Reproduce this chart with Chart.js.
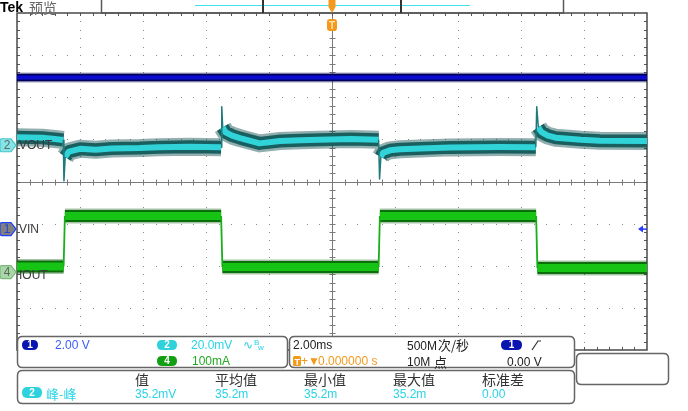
<!DOCTYPE html>
<html><head><meta charset="utf-8">
<script src="https://cdn.jsdelivr.net/npm/chart.js@4.4.1/dist/chart.umd.min.js"></script>
<style>html,body{margin:0;padding:0;background:#fff;overflow:hidden}canvas{display:block}</style>
</head><body>
<canvas id="c" width="688" height="411"></canvas>
<script>
// ---------------- data (time in ms, 2.00 ms/div) ----------------
const vinTime = [-10, -5, 0, 5, 10];
const vinVolts = [7.2, 7.2, 7.2, 7.2, 7.2];

const voutTime = [-10,-9.2,-8.8,-8.53, -8.5, -8.47,-8.35,-8.0,-7.5,-7.0,-6.1,-5.5,-4.5,-3.52, -3.5,
  -3.47,-3.38,-3.17,-2.92,-2.3,-1.65,-1.0,-0.4,0.6,1.48, 1.51,
  1.55,1.62,1.84,2.16,2.8,3.75,5.3,6.47, 6.5,
  6.55,6.65,6.85,7.1,7.9,8.5,10];
const voutMv = [3.8,3.6,3.0,2.5, null, -5.5,-3.0,-1.7,-2.1,-1.5,-1.3,-0.9,-0.7,-0.9, null,
  8.5,6.2,4.6,3.4,0.9,2.0,2.4,2.6,3.0,2.6, null,
  -5.5,-3.6,-2.4,-1.9,-1.5,-1.0,-0.8,-0.9, null,
  8.5,6.2,4.6,3.6,2.6,2.2,2.0];
const voutSpikeTime = [-8.53,-8.51,-8.47, -8.4, -3.52,-3.5,-3.47, -3.4, 1.48,1.51,1.55, 1.6, 6.47,6.5,6.55];
const voutSpikeMv   = [2.5,-16.9,-5.5, null, -0.9,18.3,8.5, null, 2.6,-16.0,-5.5, null, -0.9,18.3,8.5];

const ioutTime = [-10,-8.52, -8.5, -8.48,-3.52, -3.5, -3.48,1.48, 1.5, 1.52,6.48, 6.5, 6.52,10];
const ioutMa   = [13,13, null, 133,133, null, 12,12, null, 133,133, null, 9.5,9.5];
const ioutEdgeTime = [-8.52,-8.48, -8.4, -3.52,-3.48, -3.4, 1.48,1.52, 1.6, 6.48,6.52];
const ioutEdgeMa   = [13,133, null, 133,12, null, 12,133, null, 133,9.5];

const channelLabels = ['VIN', 'VOUT', 'IOUT'];
const measHeaders = ['值', '平均值', '最小值', '最大值', '标准差'];
const measValues = ['35.2mV', '35.2m', '35.2m', '35.2m', '0.00'];
const measName = '峰-峰';

// channel vertical settings (per division, offset in divisions from centre)
const CH1 = {perDiv: 2.0, offset: -1.13};   // V
const CH2 = {perDiv: 20.0, offset: 0.86};   // mV
const CH4 = {perDiv: 100, offset: -2.15};   // mA

const pts = (xs, ys) => xs.map((x, i) => ({x: x, y: ys[i]}));
const axisFor = ch => ({display: false, min: (-4 - ch.offset) * ch.perDiv, max: (4 - ch.offset) * ch.perDiv});

function ds(data, axis, color, width, order) {
  return {data: data, yAxisID: axis, borderColor: color, borderWidth: width, pointRadius: 0,
    tension: 0, spanGaps: false, fill: false, order: order, borderCapStyle: 'butt', borderJoinStyle: 'round'};
}

const vin = pts(vinTime, vinVolts);
const vout = pts(voutTime, voutMv);
const voutSp = pts(voutSpikeTime, voutSpikeMv);
const iout = pts(ioutTime, ioutMa);
const ioutEd = pts(ioutEdgeTime, ioutEdgeMa);

const FONT = '"Liberation Sans", Arial, sans-serif';
const CJK = '"Noto Sans CJK SC", sans-serif';

function rrect(ctx, x, y, w, h, r) {
  ctx.beginPath();
  ctx.moveTo(x + r, y); ctx.lineTo(x + w - r, y); ctx.quadraticCurveTo(x + w, y, x + w, y + r);
  ctx.lineTo(x + w, y + h - r); ctx.quadraticCurveTo(x + w, y + h, x + w - r, y + h);
  ctx.lineTo(x + r, y + h); ctx.quadraticCurveTo(x, y + h, x, y + h - r);
  ctx.lineTo(x, y + r); ctx.quadraticCurveTo(x, y, x + r, y); ctx.closePath();
}
function pill(ctx, x, y, w, h, fill, txt) {
  rrect(ctx, x, y, w, h, h / 2); ctx.fillStyle = fill; ctx.fill();
  ctx.fillStyle = '#fff'; ctx.font = 'bold 10px ' + FONT; ctx.textAlign = 'center'; ctx.textBaseline = 'middle';
  ctx.fillText(txt, x + w / 2, y + h / 2 + 0.5);
  ctx.textAlign = 'left'; ctx.textBaseline = 'alphabetic';
}
function tag(ctx, yc, fill, stroke, txt, tcol) {
  ctx.beginPath();
  ctx.moveTo(2, yc - 6.5); ctx.lineTo(11, yc - 6.5); ctx.lineTo(16, yc); ctx.lineTo(11, yc + 6.5);
  ctx.lineTo(2, yc + 6.5); ctx.quadraticCurveTo(0, yc + 6.5, 0, yc + 4.5); ctx.lineTo(0, yc - 4.5);
  ctx.quadraticCurveTo(0, yc - 6.5, 2, yc - 6.5); ctx.closePath();
  ctx.fillStyle = fill; ctx.fill(); ctx.lineWidth = 1.2; ctx.strokeStyle = stroke; ctx.stroke();
  ctx.fillStyle = tcol; ctx.font = '12px ' + FONT; ctx.textAlign = 'center'; ctx.textBaseline = 'middle';
  ctx.fillText(txt, 7, yc + 0.5); ctx.textAlign = 'left'; ctx.textBaseline = 'alphabetic';
}

const scopePlugin = {
  id: 'scope',
  beforeDatasetsDraw(chart) {
    const {ctx, chartArea: a, scales} = chart;
    const sx = scales.x, sy = scales.y;
    const dx = (sx.getPixelForValue(2) - sx.getPixelForValue(0)) / 5;
    const dy = (sy.getPixelForValue(0) - sy.getPixelForValue(1)) / 5;
    const cx = Math.round(sx.getPixelForValue(0)) + 0.5, cy = Math.round(sy.getPixelForValue(0)) + 0.5;
    ctx.save();
    // dotted graticule along each division line
    ctx.fillStyle = '#8a8a8a';
    sx.ticks.forEach(t => {
      if (t.value <= sx.min || t.value >= sx.max || t.value === 0) return;
      const x = Math.round(sx.getPixelForValue(t.value));
      for (let j = 1; j < 40; j++) ctx.fillRect(x, Math.round(a.top + j * dy), 1, 1);
    });
    sy.ticks.forEach(t => {
      if (t.value <= sy.min || t.value >= sy.max || t.value === 0) return;
      const y = Math.round(sy.getPixelForValue(t.value));
      for (let i = 1; i < 50; i++) ctx.fillRect(Math.round(a.left + i * dx), y, 1, 1);
    });
    ctx.strokeStyle = '#7a7a7a'; ctx.lineWidth = 1;
    ctx.beginPath();
    ctx.moveTo(a.left, cy); ctx.lineTo(a.right, cy);
    ctx.moveTo(cx, a.top); ctx.lineTo(cx, a.bottom);
    for (let i = 1; i < 50; i++) { const x = Math.round(a.left + i * dx) + 0.5; ctx.moveTo(x, cy - 3); ctx.lineTo(x, cy + 3); }
    for (let j = 1; j < 40; j++) { const y = Math.round(a.top + j * dy) + 0.5; ctx.moveTo(cx - 3, y); ctx.lineTo(cx + 3, y); }
    ctx.stroke();
    // border ticks
    ctx.strokeStyle = '#555';
    ctx.beginPath();
    for (let i = 1; i < 50; i++) { const x = Math.round(a.left + i * dx) + 0.5; ctx.moveTo(x, a.top); ctx.lineTo(x, a.top + 3); ctx.moveTo(x, a.bottom); ctx.lineTo(x, a.bottom - 3); }
    for (let j = 1; j < 40; j++) { const y = Math.round(a.top + j * dy) + 0.5; ctx.moveTo(a.left, y); ctx.lineTo(a.left + 3, y); ctx.moveTo(a.right, y); ctx.lineTo(a.right - 3, y); }
    ctx.stroke();
    ctx.lineWidth = 1.5; ctx.strokeStyle = '#4a4a4a';
    ctx.strokeRect(a.left, a.top, a.right - a.left, a.bottom - a.top);
    ctx.restore();
  },
  afterDraw(chart) {
    const {ctx, chartArea: a, scales} = chart;
    const cx = scales.x.getPixelForValue(0);
    ctx.save();
    // top bar
    ctx.fillStyle = '#000'; ctx.font = 'bold 14px ' + FONT; ctx.fillText('Tek', 0, 12);
    ctx.fillStyle = '#666'; ctx.font = '14px ' + CJK; ctx.fillText('预览', 29, 13);
    ctx.strokeStyle = '#5a5a5a'; ctx.lineWidth = 1.5;
    ctx.strokeRect(101.5, -1, 462, 14);
    ctx.strokeStyle = '#40e0ec'; ctx.lineWidth = 1;
    ctx.beginPath(); ctx.moveTo(195, 5.5); ctx.lineTo(470, 5.5); ctx.stroke();
    ctx.strokeStyle = '#333'; ctx.lineWidth = 2;
    ctx.beginPath(); ctx.moveTo(263, 0); ctx.lineTo(263, 13); ctx.moveTo(401, 0); ctx.lineTo(401, 13); ctx.stroke();
    // trigger position markers
    ctx.fillStyle = '#f39a1c';
    ctx.beginPath(); ctx.moveTo(cx - 3.5, 0); ctx.lineTo(cx + 3.5, 0); ctx.lineTo(cx + 3.5, 7); ctx.lineTo(cx, 13); ctx.lineTo(cx - 3.5, 7); ctx.closePath(); ctx.fill();
    rrect(ctx, cx - 5, 19, 10, 12, 3); ctx.fill();
    ctx.fillStyle = '#ffe0b0'; ctx.font = 'bold 10px ' + FONT; ctx.textAlign = 'center'; ctx.fillText('T', cx, 29); ctx.textAlign = 'left';
    // channel tags
    const y1 = scales.yA.getPixelForValue(0), y2 = scales.yV.getPixelForValue(0), y4 = scales.yI.getPixelForValue(0);
    tag(ctx, y2, '#86e4e6', '#4cc6ca', '2', '#5a6a6a');
    tag(ctx, y1, '#808080', '#2040ff', '1', '#2a40d8');
    tag(ctx, y4, '#a9d6a9', '#7cb87c', '4', '#5a6a5a');
    ctx.fillStyle = '#3a3a3a'; ctx.font = '12px ' + FONT; ctx.textBaseline = 'middle';
    ctx.fillText(channelLabels[0], 19, y1 + 0.5);
    ctx.fillText(channelLabels[1], 19, y2 + 0.5);
    ctx.fillText(channelLabels[2], 19, y4 + 3.5);
    ctx.textBaseline = 'alphabetic';
    // trigger level arrow on right
    ctx.fillStyle = '#2a3cff'; ctx.strokeStyle = '#2a3cff'; ctx.lineWidth = 1.5;
    ctx.beginPath(); ctx.moveTo(638, y1); ctx.lineTo(643, y1 - 3.5); ctx.lineTo(643, y1 + 3.5); ctx.closePath(); ctx.fill();
    ctx.beginPath(); ctx.moveTo(642, y1); ctx.lineTo(647, y1); ctx.stroke();

    // readout boxes
    ctx.lineWidth = 1.5; ctx.strokeStyle = '#666';
    const boxes = [[17, 336, 270, 31], [289, 336, 285, 31], [17, 370, 557, 33], [576, 353, 92, 31]];
    for (const b of boxes) { rrect(ctx, b[0] + 0.5, b[1] + 0.5, b[2], b[3], 5); ctx.fillStyle = '#fff'; ctx.fill(); ctx.stroke(); }
    const NAVY = '#0a14b0', CYAN = '#2ed2dc', GREEN = '#139f13', ORANGE = '#f39a1c';
    pill(ctx, 22, 340, 16, 10, NAVY, '1');
    ctx.font = '12px ' + FONT; ctx.fillStyle = '#3c5cff'; ctx.fillText('2.00 V', 55, 349);
    pill(ctx, 157, 340, 20, 10, CYAN, '2');
    ctx.font = '12px ' + FONT; ctx.fillStyle = '#28d4e6'; ctx.fillText('20.0mV', 191, 349);
    ctx.fillText('\u223F', 243, 349);
    ctx.font = '8px ' + FONT; ctx.fillText('B', 254, 345); ctx.fillText('w', 258, 350);
    pill(ctx, 157, 356, 20, 10, GREEN, '4');
    ctx.font = '12px ' + FONT; ctx.fillStyle = '#22a822'; ctx.fillText('100mA', 192, 365);
    // horizontal box
    ctx.fillStyle = '#222'; ctx.fillText('2.00ms', 293, 349);
    ctx.fillText('500M', 407, 350);
    ctx.font = '13px ' + CJK; ctx.fillText('次/秒', 438, 350);
    ctx.font = '12px ' + FONT; ctx.fillText('10M', 407, 366);
    ctx.font = '13px ' + CJK; ctx.fillText('点', 434, 367);
    ctx.font = '12px ' + FONT; ctx.fillText('0.00 V', 507, 366);
    pill(ctx, 501, 340, 21, 10, NAVY, '1');
    ctx.strokeStyle = '#333'; ctx.lineWidth = 1.2;
    ctx.beginPath(); ctx.moveTo(532, 350); ctx.lineTo(538, 341); ctx.lineTo(541, 341); ctx.stroke();
    ctx.fillStyle = ORANGE; rrect(ctx, 293, 356, 8, 10, 1.5); ctx.fill();
    ctx.fillStyle = '#fff'; ctx.font = 'bold 9px ' + FONT; ctx.fillText('T', 294.5, 364.5);
    ctx.fillStyle = ORANGE; ctx.font = '12px ' + FONT; ctx.fillText('+\u25BC', 301, 365);
    ctx.fillText('0.000000 s', 318, 365);
    // measurement box
    ctx.fillStyle = '#333'; ctx.font = '14px ' + CJK;
    const mx = [135, 215, 304, 393, 482];
    measHeaders.forEach((h, i) => ctx.fillText(h, mx[i], 385));
    pill(ctx, 22, 387, 20, 11, CYAN, '2');
    ctx.fillStyle = '#28d4e6'; ctx.font = '13px ' + CJK; ctx.fillText(measName, 46, 399);
    ctx.font = '12px ' + FONT;
    measValues.forEach((v, i) => ctx.fillText(v, mx[i], 398));
    ctx.restore();
  }
};

new Chart(document.getElementById('c'), {
  type: 'line',
  data: {
    datasets: [
      ds(vin, 'yA', 'rgba(0,0,70,0.35)', 10, 30),
      ds(vin, 'yA', '#00005c', 7.5, 29),
      ds(vin, 'yA', '#0a0ad0', 4, 28),
      ds(vout, 'yV', 'rgba(15,75,75,0.45)', 18, 30),
      ds(vout, 'yV', '#1a5f60', 13, 29),
      ds(vout, 'yV', '#2fd3d8', 6, 28),
      ds(voutSp, 'yV', '#1f7a7c', 1.5, 27),
      ds(iout, 'yI', 'rgba(0,85,0,0.35)', 15, 30),
      ds(iout, 'yI', '#0b6d0b', 12, 29),
      ds(iout, 'yI', '#16c416', 8, 28),
      ds(ioutEd, 'yI', '#18b018', 1.8, 27)
    ]
  },
  options: {
    responsive: false, animation: false, devicePixelRatio: 1,
    layout: {padding: {left: 17, top: 13, right: 41, bottom: 61}},
    plugins: {legend: {display: false}, tooltip: {enabled: false}},
    scales: {
      x: {type: 'linear', min: -10, max: 10, ticks: {display: false, stepSize: 2},
          grid: {display: false, drawTicks: false}, border: {display: false}},
      y: {type: 'linear', min: -4, max: 4, ticks: {display: false, stepSize: 1},
          grid: {display: false, drawTicks: false}, border: {display: false}},
      yA: axisFor(CH1),
      yV: axisFor(CH2),
      yI: axisFor(CH4)
    }
  },
  plugins: [scopePlugin]
});
</script>
</body></html>
